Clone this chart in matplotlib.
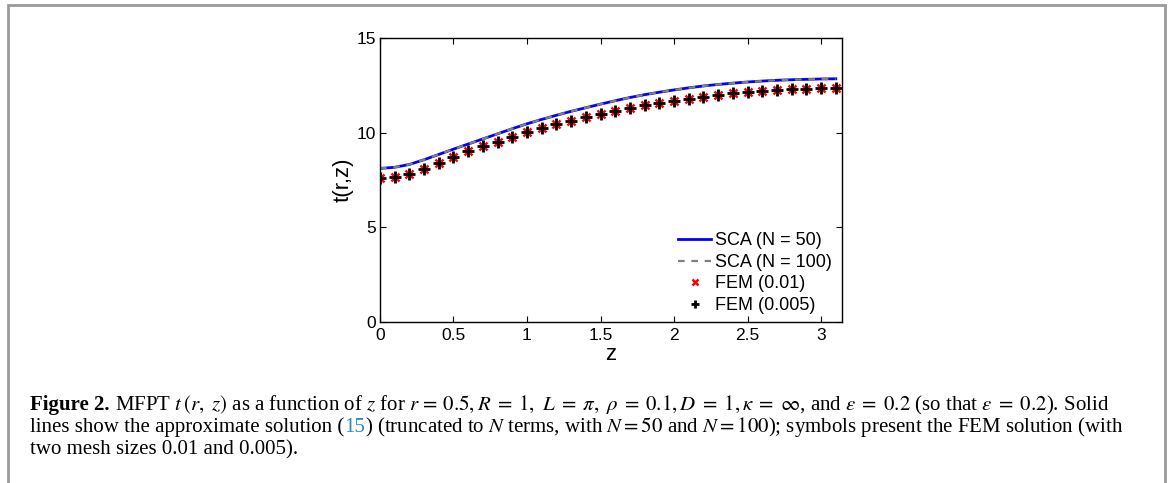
import numpy as np
import matplotlib.pyplot as plt
from matplotlib.patches import Rectangle

# data
z_line = [0.0, 0.1, 0.2, 0.3, 0.4, 0.5, 0.6, 0.7, 0.8, 0.9, 1.0, 1.1, 1.2, 1.3, 1.4, 1.5,
          1.6, 1.7, 1.8, 1.9, 2.0, 2.1, 2.2, 2.3, 2.4, 2.5, 2.6, 2.7, 2.8, 2.9, 3.0, 3.1]
sca_50 = [8.12, 8.18, 8.33, 8.58, 8.86, 9.14, 9.41, 9.68, 9.95, 10.22, 10.48, 10.71, 10.93,
          11.14, 11.33, 11.52, 11.70, 11.87, 12.02, 12.15, 12.27, 12.38, 12.48, 12.56, 12.63,
          12.69, 12.74, 12.78, 12.81, 12.83, 12.85, 12.86]
sca_100 = sca_50
z_fem = z_line
fem_001 = [7.60, 7.68, 7.84, 8.11, 8.39, 8.72, 9.04, 9.30, 9.54, 9.79, 10.04, 10.25, 10.46,
           10.65, 10.82, 11.00, 11.18, 11.32, 11.46, 11.58, 11.70, 11.81, 11.91, 12.00, 12.09,
           12.16, 12.21, 12.26, 12.30, 12.33, 12.35, 12.37]
fem_0005 = fem_001

plt.rcParams['font.family'] = ['Liberation Sans', 'DejaVu Sans']
plt.rcParams['mathtext.fontset'] = 'stix'

fig = plt.figure(figsize=(11.68, 4.83), dpi=100)
ax = fig.add_axes([0.3253, 0.3333, 0.3955, 0.5874])

ax.plot(z_line, sca_50, color='#0000ff', lw=2.0, label='SCA (N = 50)')
ax.plot(z_line, sca_100, color='#808080', lw=1.6, ls=(0, (3, 3)), label='SCA (N = 100)')
ax.plot(z_fem, fem_001, ls='none', marker='x', ms=6, mew=1.8, color='#ff0000', label='FEM (0.01)')
ax.plot(z_fem, fem_0005, ls='none', marker='+', ms=8, mew=2, color='black', label='FEM (0.005)')

ax.set_xlim(0, np.pi)
ax.set_ylim(0, 15)
ax.set_xticks([0, 0.5, 1, 1.5, 2, 2.5, 3])
ax.set_xticklabels(['0', '0.5', '1', '1.5', '2', '2.5', '3'])
ax.set_yticks([0, 5, 10, 15])
ax.tick_params(direction='in', top=True, right=True, length=4, labelsize=12.5, pad=4)
ax.tick_params(axis='y', pad=3)
ax.set_xlabel('z', fontsize=16, labelpad=1)
ax.set_ylabel('t(r,z)', fontsize=16, labelpad=2)
for s in ax.spines.values():
    s.set_linewidth(1.0)

leg = ax.legend(loc='lower right', frameon=False, fontsize=13, handlelength=1.8,
                handletextpad=0.2, labelspacing=0.25, borderaxespad=0.05,
                markerscale=0.75, bbox_to_anchor=(0.995, 0.0))

# outer frame of the figure panel
fig.patches.append(Rectangle((8 / 1168, -0.1), 1157 / 1168, 1.1 - 5 / 483,
                             transform=fig.transFigure, fill=False,
                             edgecolor='#9a9a9a', lw=2, clip_on=False))

# caption, placed piece by piece
fig.canvas.draw()
renderer = fig.canvas.get_renderer()
cap_size = 15
serif = ['Liberation Serif', 'DejaVu Serif']


def put_pieces(pieces, x0, y0):
    x = x0
    for txt, kw in pieces:
        t = fig.text(x, y0, txt, fontsize=cap_size, family=serif, va='baseline', **kw)
        bb = t.get_window_extent(renderer)
        x = bb.x1 / fig.bbox.width


line1 = [('Figure 2.', {'weight': 'bold'}),
         (r' MFPT $t\,(r,\ z)$ as a function of $z$ for $r\,=\,0.5, R\;=\;1,\ L\;=\;\pi,\ \rho\;=\;0.1, D\;=\;1, \kappa\;=\;\infty$, and $\epsilon\;=\;0.2$ (so that $\varepsilon\;=\;0.2$). Solid', {})]
line2 = [('lines show the approximate solution (', {}),
         ('15', {'color': '#2a86c4'}),
         (r') (truncated to $N$ terms, with $N = 50$ and $N = 100$); symbols present the FEM solution (with', {})]
line3 = [('two mesh sizes 0.01 and 0.005).', {})]

x0 = 30 / 1168
put_pieces(line1, x0, 1 - 410 / 483)
put_pieces(line2, x0, 1 - 432 / 483)
put_pieces(line3, x0, 1 - 454 / 483)

fig.savefig('out.png', dpi=100)
